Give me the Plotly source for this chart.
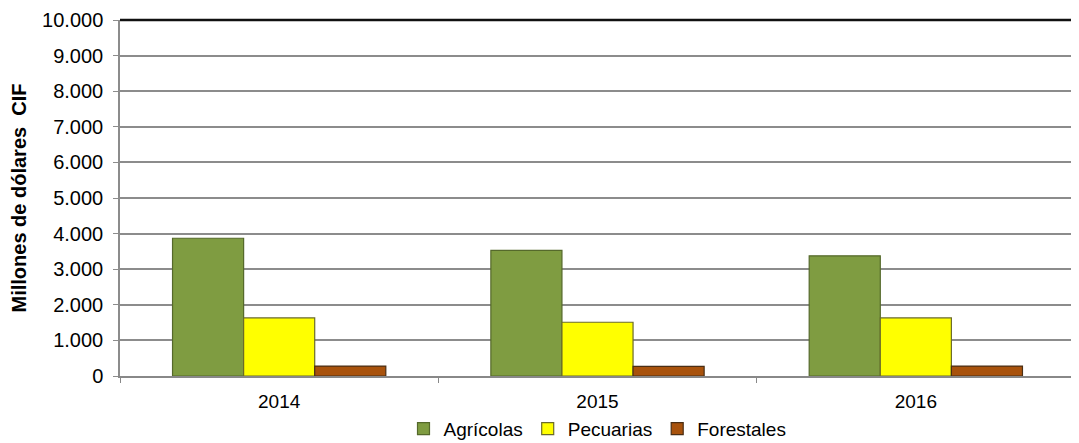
import plotly.graph_objects as go

years = ["2014", "2015", "2016"]
agricolas = [3870, 3530, 3375]
pecuarias = [1630, 1510, 1630]
forestales = [280, 270, 280]
y_ticks = [0, 1000, 2000, 3000, 4000, 5000, 6000, 7000, 8000, 9000, 10000]

series = [
    ("Agrícolas", agricolas, "#7F9C41", "#55692B"),
    ("Pecuarias", pecuarias, "#FFFF00", "#6B6B2A"),
    ("Forestales", forestales, "#A8520C", "#4A2E14"),
]

fig = go.Figure()
for name, vals, col, edge in series:
    fig.add_trace(go.Bar(
        x=years, y=vals, name=name,
        marker=dict(color=col, line=dict(color=edge, width=1.2)),
    ))

font_family = "Liberation Sans, Arial, sans-serif"
# page body has an 8px margin, so the figure is sized/offset to compensate
fig.update_layout(
    width=1071, height=435,
    margin=dict(l=112, r=4, t=12, b=67, autoexpand=False),
    paper_bgcolor="white", plot_bgcolor="white",
    barmode="group", bargap=0.33, bargroupgap=0,
    separators=",.",
    font=dict(family=font_family, size=19, color="#000000"),
    showlegend=True,
    legend=dict(orientation="h", x=0.5, xanchor="center", y=-0.148, yanchor="middle",
                font=dict(size=19), itemwidth=30, traceorder="normal",
                bgcolor="rgba(0,0,0,0)"),
    xaxis=dict(
        type="category", showgrid=False, showline=True, linecolor="#888888", linewidth=1.5,
        ticks="outside", tickson="boundaries", ticklen=5, tickcolor="#888888",
        tickfont=dict(size=19), automargin=False, ticklabelstandoff=7,
    ),
    yaxis=dict(
        range=[0, 10000], tickvals=y_ticks, tickformat=",d",
        showgrid=True, gridcolor="#8C8C8C", gridwidth=1.5,
        showline=True, linecolor="#8C8C8C", linewidth=1.5, mirror=True,
        ticks="outside", ticklen=5, tickcolor="#8C8C8C",
        tickfont=dict(size=20), automargin=False, ticklabelstandoff=6,
        title=dict(text="<b>Millones de dólares  CIF</b>", font=dict(size=20), standoff=14),
        zeroline=False,
    ),
    shapes=[dict(type="line", xref="paper", yref="y domain", x0=0, x1=1, y0=1, y1=1,
                 line=dict(color="#111111", width=2.5))],
)

fig.write_html("out.html")
